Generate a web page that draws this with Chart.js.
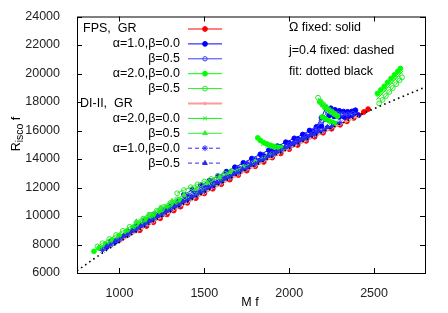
<!DOCTYPE html>
<html>
<head>
<meta charset="utf-8">
<script src="https://cdn.jsdelivr.net/npm/chart.js@4.4.0/dist/chart.umd.min.js"></script>
<style>
  html, body { margin: 0; padding: 0; background: #fff; }
  #wrap { width: 448px; height: 313px; }
</style>
</head>
<body>
<div id="wrap"><canvas id="chart" width="448" height="313"></canvas></div>
<script>
// Ejes
const xTicks = [1000, 1500, 2000, 2500];
const yTicks = [6000, 8000, 10000, 12000, 14000, 16000, 18000, 20000, 22000, 24000];

// FPS, GR
const fpsGR = [
  [[1120, 9000], [1160, 9290], [1200, 9560], [1240, 9840], [1280, 10110], [1320, 10380], [1360, 10650],
   [1400, 10920], [1450, 11250], [1500, 11580], [1550, 11910], [1600, 12230], [1650, 12550], [1700, 12870],
   [1750, 13180], [1800, 13490], [1850, 13790], [1900, 14100], [1950, 14390], [2000, 14690], [2050, 14980],
   [2100, 15270], [2150, 15560], [2200, 15840], [2250, 16120], [2300, 16400], [2340, 16640], [2380, 16880],
   [2410, 17080], [2440, 17300], [2465, 17500]],
];

// alpha=1.0, beta=0.0 (Omega fijo)
const fpsA1B0 = [
  [[925, 7820], [975, 8180], [1025, 8540], [1075, 8900], [1125, 9250], [1175, 9600], [1225, 9950],
   [1275, 10290], [1325, 10630], [1375, 10970], [1425, 11300], [1475, 11630], [1525, 11960], [1575, 12280],
   [1625, 12600], [1675, 12920], [1725, 13230], [1775, 13540], [1825, 13850], [1875, 14150], [1925, 14450],
   [1975, 14750], [2025, 15050], [2075, 15340], [2125, 15620], [2175, 15910], [2225, 16190], [2275, 16470]],
  [[950, 8200], [1000, 8560], [1050, 8920], [1100, 9280], [1150, 9630], [1200, 9980], [1250, 10320],
   [1300, 10660], [1350, 11000], [1400, 11340], [1450, 11670], [1500, 12000], [1550, 12320], [1600, 12650],
   [1650, 12960], [1700, 13280], [1750, 13590], [1800, 13900], [1850, 14210], [1900, 14510], [1950, 14810],
   [2000, 15100], [2050, 15400], [2100, 15600], [2140, 15950], [2160, 16250], [2190, 16900], [2215, 17600],
   [2245, 17560], [2270, 17450], [2295, 17380], [2320, 17330], [2345, 17310], [2370, 17340], [2390, 17420]],
  [[2100, 15450], [2150, 15800], [2190, 16300], [2215, 16800], [2235, 17050], [2265, 16990], [2295, 16950],
   [2325, 16940], [2355, 16960], [2385, 17010], [2405, 17080]],
  [[1380, 11500], [1430, 11830], [1480, 12160], [1530, 12480], [1580, 12800], [1630, 13110], [1680, 13420],
   [1730, 13730], [1780, 14030], [1830, 14330], [1880, 14620], [1930, 14900], [1980, 15180], [2030, 15450],
   [2080, 15720], [2120, 16000]],
];

// beta=0.5
const fpsA1B5 = [
  [[900, 7740], [950, 8100], [1000, 8460], [1050, 8820], [1100, 9180], [1150, 9530], [1200, 9880],
   [1250, 10220], [1300, 10560], [1350, 10900], [1400, 11240], [1450, 11570], [1500, 11900], [1550, 12220],
   [1600, 12550], [1650, 12860], [1700, 13180], [1750, 13490], [1800, 13800], [1850, 14110], [1900, 14410],
   [1950, 14710], [2000, 15000], [2050, 15300], [2100, 15600], [2150, 16050], [2190, 16700], [2225, 17350],
   [2255, 17280], [2285, 17200], [2315, 17150], [2345, 17140], [2375, 17180]],
  [[1150, 9750], [1200, 10120], [1250, 10470], [1300, 10800], [1350, 11130], [1400, 11460], [1450, 11790],
   [1500, 12120], [1550, 12440], [1600, 12760], [1650, 13070], [1700, 13380], [1750, 13690], [1800, 13990]],
];

// alpha=2.0, beta=0.0
const fpsA2B0 = [
  [[850, 7520], [880, 7740], [920, 8030], [960, 8320], [1000, 8610], [1040, 8900], [1080, 9180], [1120, 9470],
   [1160, 9750], [1200, 10030], [1240, 10300], [1280, 10580], [1320, 10850], [1360, 11100]],
  [[1815, 15480], [1830, 15300], [1850, 15150], [1870, 15050], [1890, 14960], [1910, 14890], [1930, 14830],
   [1950, 14790], [1970, 14780]],
  [[2180, 18000], [2195, 17800], [2210, 17620], [2225, 17470], [2245, 17300], [2265, 17150], [2285, 17000]],
  [[2195, 16950], [2215, 16800], [2235, 16680], [2255, 16580], [2275, 16480]],
  [[2520, 18600], [2540, 18850], [2560, 19100], [2580, 19380], [2600, 19650], [2620, 19900], [2640, 20150], [2655, 20350]],
];

// beta=0.5
const fpsA2B5 = [
  [[870, 7860], [900, 8090], [940, 8380], [980, 8670], [1020, 8960], [1060, 9240], [1100, 9530], [1140, 9810],
   [1180, 10090], [1220, 10370], [1260, 10640], [1300, 10910], [1340, 11180]],
  [[1340, 11600], [1380, 11820], [1420, 12020], [1460, 12220], [1500, 12420], [1540, 12600], [1580, 12800],
   [1620, 12980], [1660, 13150]],
  [[2170, 18300], [2185, 18050], [2200, 17850], [2215, 17680], [2230, 17520], [2250, 17350], [2265, 17200], [2280, 17060]],
  [[2530, 17900], [2550, 18150], [2570, 18420], [2590, 18700], [2610, 18980], [2630, 19250], [2650, 19520], [2665, 19720]],
];

// DI-II, GR
const diGR = [
  [[1000, 8180], [1100, 8900], [1200, 9600], [1300, 10290], [1400, 10960], [1500, 11620], [1600, 12270],
   [1700, 12900], [1800, 13520], [1900, 14130], [2000, 14730], [2100, 15310], [2200, 15880], [2300, 16440], [2400, 16980]],
];

// alpha=2.0, beta=0.0
const diA2B0 = [
  [[900, 7790], [950, 8150], [1000, 8510], [1050, 8870], [1100, 9230], [1150, 9580], [1200, 9930],
   [1250, 10270], [1300, 10610], [1350, 10950], [1400, 11250], [1450, 11560], [1500, 11880], [1550, 12190],
   [1600, 12500], [1650, 12810], [1700, 13120], [1750, 13430], [1800, 13730], [1850, 14030], [1900, 14330]],
  [[2525, 18300], [2545, 18550], [2565, 18800], [2585, 19080], [2605, 19350], [2625, 19600], [2645, 19850], [2660, 20050]],
  [[1845, 15050], [1870, 14900], [1895, 14820], [1920, 14760], [1945, 14720]],
];

// beta=0.5
const diA2B5 = [
  [[1100, 9620], [1170, 10100], [1240, 10580], [1310, 11050], [1380, 11480], [1450, 11900], [1520, 12300],
   [1590, 12700], [1660, 13080], [1730, 13450], [1800, 13830], [1870, 14200], [1940, 14560]],
];

// alpha=1.0, beta=0.0 (j=0.4 fijo)
const diA1B0 = [
  [[900, 7590], [950, 7950], [1000, 8310], [1050, 8670], [1100, 9030], [1150, 9380], [1200, 9730],
   [1250, 10070], [1300, 10410], [1350, 10750], [1400, 11090], [1450, 11420], [1500, 11750], [1550, 12070],
   [1600, 12400], [1650, 12710], [1700, 13030], [1750, 13340], [1800, 13650], [1850, 13960], [1900, 14260],
   [1950, 14560], [2000, 14850], [2050, 15150], [2100, 15430], [2150, 15720], [2200, 16000], [2250, 16280], [2300, 16560]],
];

// beta=0.5
const diA1B5 = [
  [[925, 7870], [975, 8230], [1025, 8590], [1075, 8950], [1125, 9300], [1175, 9650], [1225, 10000],
   [1275, 10340], [1325, 10680], [1375, 11020], [1425, 11350], [1475, 11680], [1525, 12010], [1575, 12330],
   [1625, 12650], [1675, 12970], [1725, 13290], [1775, 13600], [1825, 13900], [1875, 14210], [1925, 14510],
   [1975, 14810], [2025, 15100], [2075, 15390], [2125, 15680], [2175, 15960], [2225, 16240]],
];

// Ajuste (negro punteado)
const fitX = [750, 850, 950, 1050, 1150, 1250, 1350, 1450, 1550, 1650, 1750, 1850, 1950, 2050, 2150, 2250, 2350, 2450, 2550, 2650, 2750, 2800];
const fitY = [6150, 7000, 7800, 8550, 9270, 9972, 10652, 11319, 11973, 12614, 13242, 13856, 14457, 15045, 15620, 16182, 16730, 17265, 17787, 18296, 18792, 19035];

const FONT_FAMILY = '"Liberation Sans", Arial, sans-serif';
const FONT = "12.5px " + FONT_FAMILY;

// Estilo de cada serie (orden de la leyenda)
const SERIES = [
  { label: "FPS,  GR", head: true, seqs: fpsGR, color: "#ff0000", point: "circle", fill: true, radius: 2.4, dash: [], width: 1 },
  { label: "\u03b1=1.0,\u03b2=0.0", seqs: fpsA1B0, color: "#0000ff", point: "circle", fill: true, radius: 2.4, dash: [], width: 1 },
  { label: "\u03b2=0.5", seqs: fpsA1B5, color: "#3a3aff", point: "circle", fill: false, radius: 2.2, dash: [], width: 1 },
  { label: "\u03b1=2.0,\u03b2=0.0", seqs: fpsA2B0, color: "#00ff00", point: "circle", fill: true, radius: 2.4, dash: [], width: 1 },
  { label: "\u03b2=0.5", seqs: fpsA2B5, color: "#22ee22", point: "circle", fill: false, radius: 2.4, dash: [], width: 1 },
  { label: "DI-II,  GR", head: true, seqs: diGR, color: "#ff9a9a", point: "circle", fill: true, radius: 1.3, dash: [], width: 2 },
  { label: "\u03b1=2.0,\u03b2=0.0", seqs: diA2B0, color: "#11f011", point: "crossRot", fill: false, radius: 2.7, dash: [], width: 1 },
  { label: "\u03b2=0.5", seqs: diA2B5, color: "#33ee33", point: "triangle", fill: true, radius: 2.7, dash: [], width: 1 },
  { label: "\u03b1=1.0,\u03b2=0.0", seqs: diA1B0, color: "#2a2aff", point: "star", fill: false, radius: 3, dash: [4, 3], width: 1 },
  { label: "\u03b2=0.5", seqs: diA1B5, color: "#2a2aee", point: "triangle", fill: true, radius: 2.7, dash: [4, 3], width: 1 },
];

// Construir datasets
const datasets = [];
SERIES.forEach(function (s) {
  s.seqs.forEach(function (seq) {
    datasets.push({
      data: seq.map(([x, y]) => ({ x: x, y: y })),
      showLine: true,
      borderColor: s.color,
      borderWidth: s.width,
      borderDash: s.dash,
      pointStyle: s.point,
      pointRadius: s.radius,
      pointBorderWidth: 1,
      pointBorderColor: s.color,
      pointBackgroundColor: s.fill ? s.color : "rgba(0,0,0,0)",
      order: -datasets.length,
    });
  });
});
datasets.push({
  data: fitX.map((x, i) => ({ x: x, y: fitY[i] })),
  showLine: true,
  borderColor: "#000",
  borderWidth: 1.6,
  borderDash: [1.6, 3.4],
  pointRadius: 0,
  order: -datasets.length - 1,
});

// Marco y marcas hacia dentro (estilo gnuplot)
const framePlugin = {
  id: "frame",
  afterDatasetsDraw(chart) {
    const { ctx, chartArea: a, scales } = chart;
    ctx.save();
    ctx.strokeStyle = "#000";
    ctx.lineWidth = 1;
    ctx.strokeRect(a.left + 0.5, a.top + 0.5, a.right - a.left, a.bottom - a.top);
    ctx.beginPath();
    xTicks.forEach(function (v) {
      const px = Math.round(scales.x.getPixelForValue(v)) + 0.5;
      ctx.moveTo(px, a.bottom); ctx.lineTo(px, a.bottom - 5);
      ctx.moveTo(px, a.top); ctx.lineTo(px, a.top + 5);
    });
    yTicks.forEach(function (v) {
      const py = Math.round(scales.y.getPixelForValue(v)) + 0.5;
      ctx.moveTo(a.left, py); ctx.lineTo(a.left + 5, py);
      ctx.moveTo(a.right, py); ctx.lineTo(a.right - 5, py);
    });
    ctx.stroke();
    ctx.restore();
  },
};

// Leyenda, notas y títulos de ejes
const textPlugin = {
  id: "texts",
  afterDraw(chart) {
    const ctx = chart.ctx;
    ctx.save();
    ctx.font = FONT;
    ctx.textBaseline = "middle";
    SERIES.forEach(function (s, i) {
      const y = 29 + i * 14.9;
      ctx.fillStyle = "#000";
      if (s.head) {
        ctx.textAlign = "left";
        ctx.fillText(s.label, i === 0 ? 83 : 80, y);
      } else {
        ctx.textAlign = "right";
        ctx.fillText(s.label, 180, y);
      }
      ctx.strokeStyle = s.color;
      ctx.lineWidth = s.width;
      ctx.setLineDash(s.dash);
      ctx.beginPath();
      ctx.moveTo(188, y);
      ctx.lineTo(222, y);
      ctx.stroke();
      ctx.setLineDash([]);
      ctx.lineWidth = 1;
      ctx.fillStyle = s.fill ? s.color : "rgba(0,0,0,0)";
      Chart.helpers.drawPoint(ctx, { pointStyle: s.point, radius: s.radius, rotation: 0, borderWidth: 1 }, 205, y);
    });

    ctx.fillStyle = "#000";
    ctx.textAlign = "left";
    ctx.fillText("\u03a9 fixed: solid", 289, 28);
    ctx.fillText("j=0.4 fixed: dashed", 289, 51);
    ctx.fillText("fit: dotted black", 289, 72);

    ctx.textAlign = "center";
    ctx.fillText("M f", 250, 303);

    // R_isco f vertical
    ctx.translate(15, 134);
    ctx.rotate(-Math.PI / 2);
    ctx.textAlign = "left";
    ctx.textBaseline = "alphabetic";
    const wR = ctx.measureText("R").width;
    ctx.font = "10.5px " + FONT_FAMILY;
    const wSub = ctx.measureText("isco").width;
    ctx.font = FONT;
    const wF = ctx.measureText(" f").width;
    let x0 = -(wR + wSub + wF) / 2;
    ctx.fillText("R", x0, 4.5);
    ctx.font = "10.5px " + FONT_FAMILY;
    ctx.fillText("isco", x0 + wR, 8);
    ctx.font = FONT;
    ctx.fillText(" f", x0 + wR + wSub, 4.5);
    ctx.restore();
  },
};

const ctx = document.getElementById("chart").getContext("2d");
new Chart(ctx, {
  type: "scatter",
  data: { datasets: datasets },
  options: {
    responsive: false,
    animation: false,
    layout: { padding: { top: 15, right: 23, left: 0, bottom: 0 } },
    plugins: { legend: { display: false }, tooltip: { enabled: false } },
    scales: {
      x: {
        type: "linear",
        min: 750,
        max: 2800,
        grid: { display: false },
        border: { display: false },
        afterBuildTicks: (scale) => { scale.ticks = xTicks.map((v) => ({ value: v })); },
        afterFit: (scale) => { scale.height = 40; },
        ticks: { color: "#222", font: { family: FONT_FAMILY, size: 12.5 }, padding: 5, maxRotation: 0, callback: (v) => String(v) },
      },
      y: {
        type: "linear",
        min: 6000,
        max: 24000,
        grid: { display: false },
        border: { display: false },
        afterBuildTicks: (scale) => { scale.ticks = yTicks.map((v) => ({ value: v })); },
        afterFit: (scale) => { scale.width = 77; },
        ticks: { color: "#222", font: { family: FONT_FAMILY, size: 12.5 }, padding: 9, callback: (v) => String(v) },
      },
    },
  },
  plugins: [framePlugin, textPlugin],
});
</script>
</body>
</html>
